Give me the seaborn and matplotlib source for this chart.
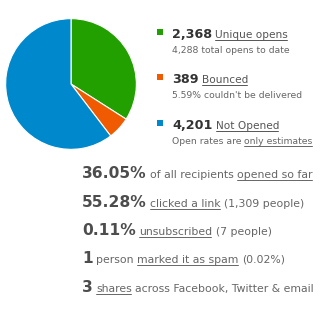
import matplotlib
matplotlib.use("Agg")
import matplotlib.pyplot as plt
from matplotlib.transforms import Affine2D
from matplotlib.lines import Line2D
import seaborn as sns

# ---- data ----
categories = ["Unique opens", "Bounced", "Not Opened"]
counts = [2368, 389, 4201]
count_labels = ["2,368", "389", "4,201"]
colors = ["#22a000", "#f05a00", "#0088cc"]
subtexts = [
    [("4,288 total opens to date", False)],
    [("5.59% couldn't be delivered", False)],
    [("Open rates are", False), ("only estimates", True)],
]
stat_values = ["36.05%", "55.28%", "0.11%", "1", "3"]
stat_texts = [
    [("of all recipients", False), ("opened so far", True)],
    [("clicked a link", True), ("(1,309 people)", False)],
    [("unsubscribed", True), ("(7 people)", False)],
    [("person", False), ("marked it as spam", True), ("(0.02%)", False)],
    [("shares", True), ("across Facebook, Twitter & email", False)],
]

sns.set_theme(style="white")
plt.rcParams["font.family"] = ["DejaVu Sans"]

W, H = 320, 319
fig = plt.figure(figsize=(W / 100, H / 100), dpi=100)
fig.patch.set_facecolor("white")

# ---- pie ----
cx, cy, r = 71, 84, 66
ax = fig.add_axes([(cx - r) / W, 1 - (cy + r) / H, 2 * r / W, 2 * r / H])
ax.pie(counts, colors=sns.color_palette(colors), startangle=90, counterclock=False,
       wedgeprops=dict(edgecolor="white", linewidth=0.8))
ax.set_xlim(-1.01, 1.01)
ax.set_ylim(-1.01, 1.01)
ax.set_aspect("equal")
ax.set_axis_off()

# pixel transform (y downward)
pix = Affine2D().scale(1 / W, -1 / H).translate(0, 1) + fig.transFigure
renderer = fig.canvas.get_renderer()


def run(x, y, segs):
    """segs: list of (text, size, color, weight, underline)"""
    first = True
    for text, size, color, weight, ul in segs:
        if not first:
            x += 0.318 * size * 100 / 72
        first = False
        t = fig.text(x, y, text, transform=pix, fontsize=size, color=color,
                     fontweight=weight, va="baseline", ha="left")
        bb = t.get_window_extent(renderer)
        if ul:
            yy = y + 2
            fig.add_artist(Line2D([x, x + bb.width - 1], [yy, yy], transform=pix,
                                  color=color, lw=0.7))
        x += bb.width
    return x


# ---- legend block ----
leg_base = [38, 83, 129]
for i in range(3):
    yb = leg_base[i]
    fig.patches.append(plt.Rectangle((157, yb - 9), 6, 6, transform=pix,
                                     facecolor=colors[i], edgecolor="none"))
    run(172, yb, [(count_labels[i], 9.2, "#333333", "bold", False),
                  (categories[i], 7.6, "#555555", "normal", True)])
    run(172, yb + 15, [(t, 6.7, "#666666", "normal", u) for t, u in subtexts[i]])

# ---- stats block ----
stat_base = [178, 207, 235, 263, 292]
for i in range(5):
    segs = [(stat_values[i], 11.2, "#4d4d4d", "bold", False)]
    segs += [(t, 7.8, "#666666", "normal", u) for t, u in stat_texts[i]]
    run(82, stat_base[i], segs)

fig.savefig("out.png", dpi=100, facecolor="white")
